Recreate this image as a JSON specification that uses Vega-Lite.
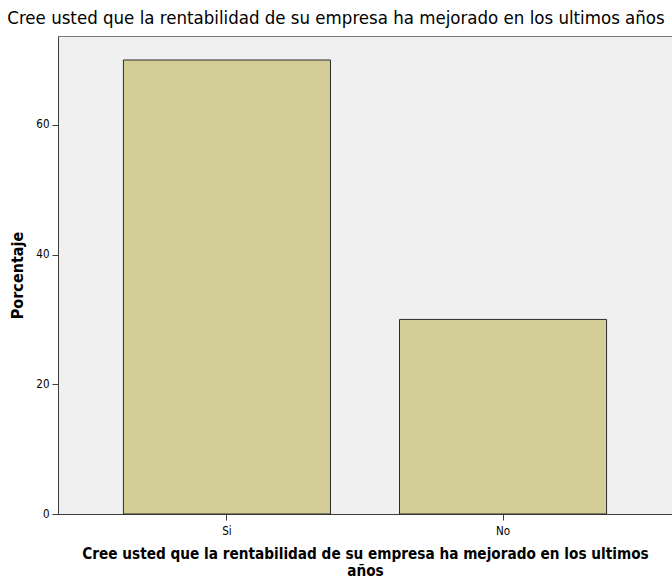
{
  "$schema": "https://vega.github.io/schema/vega-lite/v6.json",
  "autosize": "none",
  "width": 614,
  "height": 478,
  "padding": {"left": 58, "top": 36, "right": 0, "bottom": 71},
  "background": "white",
  "title": {
    "text": "Cree usted que la rentabilidad de su empresa ha mejorado en los ultimos años",
    "font": "'DejaVu Sans Condensed', 'Liberation Sans', sans-serif",
    "fontSize": 18.5,
    "fontWeight": "normal",
    "color": "#000000",
    "anchor": "middle",
    "dx": -29,
    "offset": 9
  },
  "config": {
    "view": {"fill": "#f0f0f0", "stroke": "#7a7a7a", "strokeWidth": 1},
    "axis": {"grid": false, "domainColor": "#3c3c3c", "tickColor": "#3c3c3c", "labelFont": "'DejaVu Sans Condensed', 'Liberation Sans', sans-serif", "titleFont": "'DejaVu Sans Condensed', 'Liberation Sans', sans-serif", "labelColor": "#000", "titleColor": "#000"}
  },
  "data": {"values": [
    {"respuesta": "Si", "porcentaje": 70},
    {"respuesta": "No", "porcentaje": 30}
  ]},
  "mark": {"type": "bar", "fill": "#d3ce97", "stroke": "#2b2b2b", "strokeWidth": 1},
  "encoding": {
    "x": {
      "field": "respuesta", "type": "nominal", "sort": ["Si", "No"],
      "scale": {"paddingInner": 0.25, "paddingOuter": 0.237},
      "axis": {"title": ["Cree usted que la rentabilidad de su empresa ha mejorado en los ultimos", "años"], "labelAngle": 0, "labelFontSize": 11.5, "labelPadding": 5, "titleFontSize": 15.2, "titleFontWeight": "bold", "tickSize": 6, "titlePadding": 10, "titleLineHeight": 17}
    },
    "y": {
      "field": "porcentaje", "type": "quantitative",
      "scale": {"domain": [0, 73.7], "nice": false},
      "axis": {"title": "Porcentaje", "values": [0, 20, 40, 60], "labelFontSize": 11.5, "labelPadding": 3, "titleFontSize": 16, "titleFontWeight": "bold", "tickSize": 6, "titlePadding": 10}
    }
  }
}
